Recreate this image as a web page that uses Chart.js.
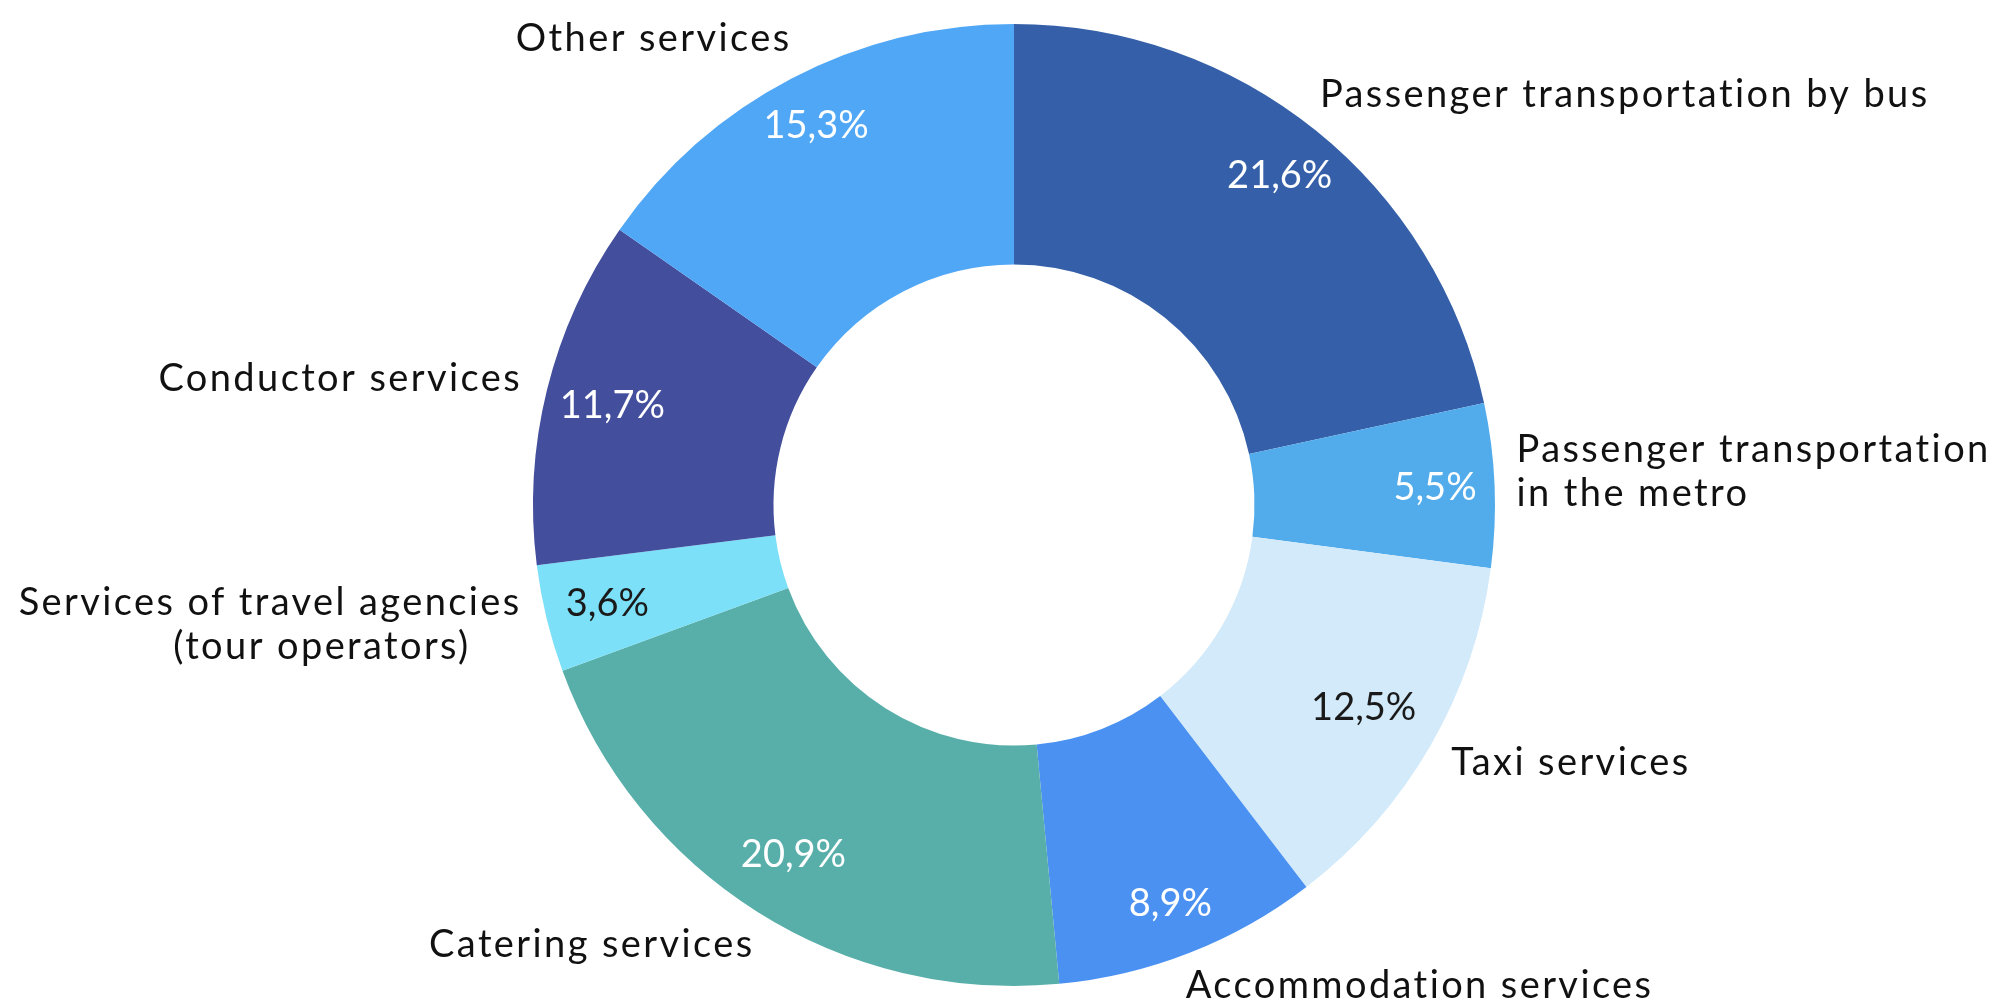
<!DOCTYPE html>
<html>
<head>
<meta charset="utf-8">
<script src="https://cdn.jsdelivr.net/npm/chart.js@4.4.1/dist/chart.umd.min.js"></script>
<style>
  html, body { margin: 0; padding: 0; background: #ffffff; }
  canvas { display: block; }
</style>
</head>
<body>
<canvas id="servicesChart" width="1998" height="1004"></canvas>
<script>
  const categories = [
    ['Passenger transportation by bus'],
    ['Passenger transportation', 'in the metro'],
    ['Taxi services'],
    ['Accommodation services'],
    ['Catering services'],
    ['Services of travel agencies', '(tour operators)'],
    ['Conductor services'],
    ['Other services']
  ];
  const shares = [21.6, 5.5, 12.5, 8.9, 20.9, 3.6, 11.7, 15.3];
  const sliceColors = ['#3560A9', '#52ABEA', '#D3EAFA', '#4A91F2', '#58AFAA', '#7BE0F8', '#434E9C', '#50A7F6'];
  const valueColors = ['#ffffff', '#ffffff', '#1a1a1a', '#ffffff', '#ffffff', '#1a1a1a', '#ffffff', '#ffffff'];

  const FONT = '38px Lato, "Open Sans", sans-serif';

  // radial position of the percentage, as a share of the outer radius
  const valueRadius = [0.88, 0.876, 0.84, 0.89, 0.86, 0.87, 0.86, 0.89];

  // where each category label sits, relative to the outer edge at the slice middle
  const labelPlace = [
    { align: 'left',  dx: 4,   dy: -36 },
    { align: 'left',  dx: 22,  dy: -14 },
    { align: 'left',  dx: 21,  dy: 17 },
    { align: 'left',  dx: -4,  dy: 33 },
    { align: 'right', dx: -3,  dy: 33 },
    { align: 'right', dx: -25, dy: 6, second: { align: 'center', x: 322 } },
    { align: 'right', dx: -25, dy: -11 },
    { align: 'right', dx: 0,   dy: -40 }
  ];

  const sliceLabels = {
    id: 'sliceLabels',
    afterDatasetsDraw(chart) {
      const ctx = chart.ctx;
      const meta = chart.getDatasetMeta(0);
      ctx.save();
      ctx.font = FONT;
      ctx.textBaseline = 'middle';
      meta.data.forEach((arc, i) => {
        const p = arc.getProps(['x', 'y', 'startAngle', 'endAngle', 'outerRadius'], true);
        const mid = (p.startAngle + p.endAngle) / 2;
        const cos = Math.cos(mid), sin = Math.sin(mid);

        // percentage inside the ring
        const r = p.outerRadius * valueRadius[i];
        ctx.letterSpacing = '0px';
        ctx.fillStyle = valueColors[i];
        ctx.textAlign = 'center';
        ctx.fillText(shares[i].toFixed(1).replace('.', ',') + '%', p.x + cos * r, p.y + sin * r);

        // category name outside
        const pl = labelPlace[i];
        const ex = p.x + cos * p.outerRadius + pl.dx;
        const ey = p.y + sin * p.outerRadius + pl.dy;
        const lines = categories[i];
        const lh = 44;
        ctx.letterSpacing = '2.4px';
        ctx.fillStyle = '#111111';
        lines.forEach((line, k) => {
          const y = ey + (k - (lines.length - 1) / 2) * lh;
          if (k > 0 && pl.second) {
            ctx.textAlign = pl.second.align;
            ctx.fillText(line, pl.second.x, y);
          } else {
            ctx.textAlign = pl.align;
            ctx.fillText(line, ex, y);
          }
        });
      });
      ctx.restore();
    }
  };

  new Chart(document.getElementById('servicesChart'), {
    type: 'doughnut',
    data: {
      labels: categories.map(c => c.join(' ')),
      datasets: [{
        data: shares,
        backgroundColor: sliceColors,
        borderWidth: 0,
        hoverOffset: 0
      }]
    },
    options: {
      responsive: false,
      animation: false,
      cutout: '50%',
      layout: { padding: { top: 24, bottom: 18, left: 30, right: 0 } },
      plugins: {
        legend: { display: false },
        tooltip: { enabled: false }
      }
    },
    plugins: [sliceLabels]
  });
</script>
</body>
</html>
